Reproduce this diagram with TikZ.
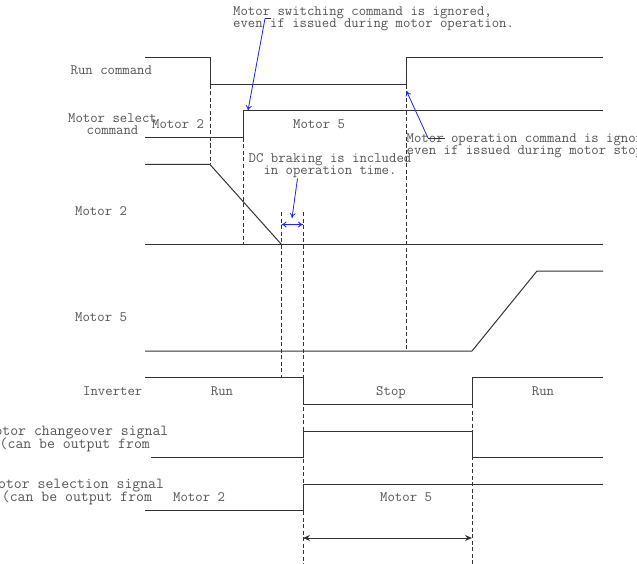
\documentclass[tikz,border=0pt]{standalone}
\usepackage{fontspec}
\usetikzlibrary{arrows.meta}
\definecolor{sigline}{HTML}{333333}
\definecolor{labeltext}{HTML}{555555}
\definecolor{noteblue}{HTML}{1F1FFF}

\begin{document}
\begin{tikzpicture}[x=1bp,y=-1bp,font=\ttfamily\fontsize{14.4}{13}\selectfont,
 lbl/.style={anchor=base west,inner sep=0pt,text=labeltext,align=left},
 clbl/.style={anchor=base,inner sep=0pt,text=labeltext,align=center},
 widelbl/.style={lbl,font=\ttfamily\fontsize{15.4}{13}\selectfont},
 sig/.style={draw=sigline,line width=1bp},
 guide/.style={draw=sigline,dash pattern=on 4bp off 2.5bp,line width=0.8bp},
 note/.style={-{To[length=5bp,width=6bp]},draw=noteblue,line width=0.8bp},
 twoway/.style={{To[length=5bp,width=6bp]}-{To[length=5bp,width=6bp]},draw=noteblue,line width=0.8bp},
 span/.style={{Stealth[length=7bp,width=6bp]}-{Stealth[length=7bp,width=6bp]},draw=sigline,line width=1bp}]
\useasboundingbox (0,0) rectangle (637,564);

% row labels
\node[lbl] (lblrun) at (70.5,75) {Run command};
\node[clbl] (lblsel) at (112.5,135) {Motor select\\command};
\node[lbl] (lblmtwo) at (75,215) {Motor 2};
\node[lbl] (lblmfive) at (75,321) {Motor 5};
\node[lbl] (lblinv) at (83,395) {Inverter};
\node[widelbl] (lblchg) at (-13.6,448) {Motor changeover signal\\[-3bp]\hspace*{13.1bp}(can be output from};
\node[widelbl] (lblsig) at (-10,501) {Motor selection signal\\[-3bp]\hspace*{11.7bp}(can be output from};

% state labels
\node[lbl] (selold) at (152,129) {Motor 2};
\node[lbl] (selnew) at (293,129) {Motor 5};
\node[clbl] (invrun) at (222,395) {Run};
\node[clbl] (invstop) at (391,395) {Stop};
\node[clbl] (invrunb) at (543,395) {Run};
\node[lbl] (outold) at (173,501) {Motor 2};
\node[lbl] (outnew) at (380,501) {Motor 5};

% notes
\node[lbl] (noteswitch) at (233,28) {Motor switching command is ignored,\\even if issued during motor operation.};
\node[lbl] (noteop) at (406.5,155) {Motor operation command is ignored,\\even if issued during motor stop.};
\node[clbl] (notedc) at (330,175) {DC braking is included\\in operation time.};

% signals
\draw[sig] (145,58) -- (210,58) -- (210,85) -- (406.5,85) -- (406.5,58) -- (603,58);
\draw[sig] (145,138) -- (243,138) -- (243,111) -- (603,111);
\draw[sig] (145,164.5) -- (210,164.5) -- (281.5,244.5);
\draw[sig] (145,244.5) -- (603,244.5);
\draw[sig] (145,351) -- (472,351) -- (537,271) -- (603,271);
\draw[sig] (145,377.5) -- (303,377.5) -- (303,404) -- (472,404) -- (472,377.5) -- (603,377.5);
\draw[sig] (151,457.5) -- (303,457.5) -- (303,431) -- (472,431) -- (472,457.5) -- (603,457.5);
\draw[sig] (145,510.5) -- (303,510.5) -- (303,484.5) -- (603,484.5);

% timing guides
\draw[guide] (210,85) -- (210,164.5);
\draw[guide] (243,138) -- (243,244.5);
\draw[guide] (281.5,212) -- (281.5,377.5);
\draw[guide] (303,212) -- (303,564);
\draw[guide] (406.5,85) -- (406.5,351);
\draw[guide] (472,404) -- (472,564);

% pointers
\coordinate (selrise) at (248,110.5);
\coordinate (runrise) at (406.5,91);
\coordinate (brakea) at (281.5,224.5);
\coordinate (brakeb) at (303,224.5);
\coordinate (holda) at (303,538);
\coordinate (holdb) at (472,538);
\draw[sigline,line width=0.8bp] (265,18.5) -- (270.5,18.5);
\draw[note] (265,18.5) -- (selrise);
\draw[sigline,line width=0.8bp] (428,138) -- (445,138);
\draw[note] (428,138) -- (runrise);
\draw[note] (notedc.south -| 297.5,0) -- (292,218);
\draw[twoway] (brakea) -- (brakeb);
\draw[span] (holda) -- (holdb);
\end{tikzpicture}
\end{document}
